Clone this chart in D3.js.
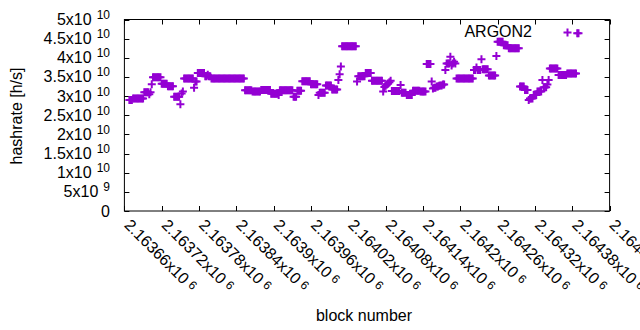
<!DOCTYPE html>
<html>
<head>
<meta charset="utf-8">
<script src="https://cdn.jsdelivr.net/npm/d3@7"></script>
<style>
body { margin: 0; background: #fff; }
svg text { font-family: "Liberation Sans", Arial, sans-serif; fill: #000; }
</style>
</head>
<body>
<svg id="chart" width="640" height="330"></svg>
<script>
// one reading every blockStep blocks, starting at firstBlock (hashrate in units of 1e10 h/s)
var firstBlock = 2163668;
var blockStep = 2;
var hashrate = [
  2.90, 2.90, 2.90, 2.94, 2.94, 2.94, 2.94, 2.94, 2.94, 2.94, 2.94, 2.94,
  3.10, 3.10, 3.10, 3.10, 3.05, 3.10, 3.31,
  3.49, 3.49, 3.49, 3.49, 3.49, 3.49, 3.49,
  3.32, 3.32, 3.32, 3.32, 3.32, 3.26, 3.26, 3.26, 3.26, 3.26,
  2.98, 2.98, 2.98, 2.98, 2.98, 2.79, 3.07, 3.12,
  3.46, 3.46, 3.46, 3.46, 3.46, 3.46, 3.46, 3.46, 3.22, 3.38, 3.38,
  3.60, 3.60, 3.60, 3.60, 3.60, 3.60, 3.52, 3.52, 3.56, 3.52, 3.52,
  3.46, 3.46, 3.46, 3.46, 3.46, 3.46, 3.46, 3.46, 3.46, 3.46, 3.46, 3.46, 3.46, 3.46,
  3.46, 3.46, 3.46, 3.46, 3.46, 3.46, 3.46, 3.46, 3.46, 3.46, 3.46, 3.46, 3.46,
  3.15, 3.15, 3.15, 3.15, 3.15, 3.15, 3.12, 3.12, 3.12, 3.12, 3.12, 3.12, 3.12,
  3.16, 3.16, 3.16, 3.16, 3.16, 3.16, 3.16, 3.16, 3.06, 3.06, 3.06, 3.06, 3.06, 3.06, 3.03,
  3.15, 3.15, 3.15, 3.15, 3.15, 3.15, 3.15, 3.15, 3.15, 3.15, 3.15,
  2.98, 2.98, 2.98, 3.14, 3.14, 3.14, 3.14,
  3.39, 3.39, 3.39, 3.39, 3.39, 3.39, 3.39, 3.31, 3.31, 3.31, 3.31, 3.31, 3.31,
  3.03, 3.09, 3.09, 3.09, 3.09, 3.09, 3.28, 3.28, 3.28, 3.28, 3.28,
  3.17, 3.17, 3.17, 3.17, 3.17, 3.42, 3.57, 3.77,
  4.30, 4.30, 4.30, 4.30, 4.30, 4.30, 4.30, 4.30, 4.30, 4.30, 4.30, 4.30, 3.38,
  3.52, 3.52, 3.52, 3.52, 3.52, 3.52, 3.60, 3.60, 3.60, 3.60, 3.60,
  3.40, 3.40, 3.40, 3.40, 3.40, 3.40, 3.40, 3.40, 3.40, 3.12,
  3.24, 3.27, 3.30, 3.33, 3.36, 3.40,
  3.13, 3.13, 3.13, 3.13, 3.13, 3.13, 3.13, 3.29, 3.09, 3.09, 3.09, 3.09,
  3.03, 3.03, 3.03, 3.03, 3.03, 3.14, 3.14, 3.14, 3.14, 3.14, 3.14,
  3.12, 3.12, 3.12, 3.12, 3.12, 3.84, 3.84, 3.84, 3.84, 3.38,
  3.20, 3.22, 3.22, 3.25, 3.25, 3.27, 3.28, 3.28, 3.30, 3.30,
  3.68, 3.85, 3.85, 3.85, 4.03, 3.80, 3.85, 3.90, 3.85,
  3.46, 3.46, 3.46, 3.46, 3.46, 3.46, 3.46, 3.46, 3.46, 3.46, 3.46, 3.46, 3.46, 3.46,
  3.68, 3.68, 3.75, 3.68, 3.68, 3.68, 3.96, 3.70, 3.70, 3.70, 3.70, 3.70,
  3.54, 3.54, 3.54, 3.54, 3.54, 3.54, 4.05,
  4.42, 4.42, 4.42, 4.42, 4.42, 4.33, 4.33, 4.33, 4.33,
  4.25, 4.25, 4.25, 4.25, 4.25, 4.25, 4.25, 4.25, 4.25,
  3.25, 3.25, 3.25, 3.25, 3.16, 3.16, 3.16, 2.90, 2.94, 2.94, 2.94,
  3.03, 3.03, 3.03, 3.12, 3.12, 3.12, 3.12, 3.42, 3.23, 3.23, 3.23, 3.30, 3.42,
  3.72, 3.72, 3.72, 3.72, 3.72, 3.72, 3.72, 3.55, 3.55, 3.55, 3.55, 3.55, 3.55, 3.55,
  3.59, 3.59, 3.59, 3.59, 3.59, 3.59, 3.59, 3.59, 4.64, 4.64
];
var seriesName = "ARGON2";
var xTicks = [2163660, 2163720, 2163780, 2163840, 2163900, 2163960, 2164020,
              2164080, 2164140, 2164200, 2164260, 2164320, 2164380, 2164440];
var yTicks = [0, 5e9, 1e10, 1.5e10, 2e10, 2.5e10, 3e10, 3.5e10, 4e10, 4.5e10, 5e10];
var xTitle = "block number";
var yTitle = "hashrate [h/s]";

(function () {
    var color = "#9400d3";
    var plotLeft = 124.4, plotRight = 609.6, plotTop = 19.5, plotBottom = 211;
    var fontSize = 16, supSize = 12;

    var svg = d3.select("#chart");

    var x = d3.scaleLinear().domain([2163660, 2164440]).range([plotLeft, plotRight]);
    var y = d3.scaleLinear().domain([0, 5e10]).range([plotBottom, plotTop]);

    // mantissa / exponent split, gnuplot style "2.5x10^10"
    function sci(v) {
        if (v === 0) return ["0", ""];
        var e = Math.floor(Math.log10(v));
        var m = parseFloat((v / Math.pow(10, e)).toPrecision(8));
        return [m + "x10", String(e)];
    }

    var points = hashrate.map(function (h, i) {
        return { block: firstBlock + i * blockStep, value: h * 1e10 };
    });

    var plus = "M-4,0H4M0,-4V4";

    //FRAME
    svg.append("rect")
        .attr("x", plotLeft).attr("y", plotTop)
        .attr("width", plotRight - plotLeft).attr("height", plotBottom - plotTop)
        .attr("fill", "none").attr("stroke", "#000").attr("stroke-width", 1);

    //TICKS, mirrored on top and right
    var tl = 5;
    var axes = svg.append("g").attr("stroke", "#000").attr("stroke-width", 1);
    yTicks.forEach(function (t) {
        var py = Math.round(y(t)) + 0.5;
        axes.append("line").attr("x1", plotLeft).attr("x2", plotLeft + tl).attr("y1", py).attr("y2", py);
        axes.append("line").attr("x1", plotRight).attr("x2", plotRight - tl).attr("y1", py).attr("y2", py);
    });
    xTicks.forEach(function (t) {
        var px = Math.round(x(t)) + 0.5;
        axes.append("line").attr("x1", px).attr("x2", px).attr("y1", plotBottom).attr("y2", plotBottom - tl);
        axes.append("line").attr("x1", px).attr("x2", px).attr("y1", plotTop).attr("y2", plotTop + tl);
    });

    //Y LABELS
    yTicks.forEach(function (t) {
        var parts = sci(t);
        var txt = svg.append("text")
            .attr("x", 110).attr("y", y(t) + 5.5)
            .attr("text-anchor", "end")
            .attr("font-size", fontSize);
        txt.append("tspan").text(parts[0]);
        if (parts[1]) {
            txt.append("tspan").attr("dx", 5).attr("dy", -6)
                .attr("font-size", supSize).text(parts[1]);
        }
    });

    //X LABELS, rotated
    xTicks.forEach(function (t) {
        var parts = sci(t);
        var txt = svg.append("text")
            .attr("transform", "translate(" + (x(t) - 1) + ",226) rotate(45)")
            .attr("font-size", fontSize);
        txt.append("tspan").text(parts[0]);
        txt.append("tspan").attr("dx", 4).attr("dy", -3)
            .attr("font-size", supSize).text(parts[1]);
    });

    //TITLES
    svg.append("text")
        .attr("transform", "translate(22,116) rotate(-90)")
        .attr("text-anchor", "middle")
        .attr("font-size", fontSize)
        .text(yTitle);
    svg.append("text")
        .attr("x", 364).attr("y", 321)
        .attr("text-anchor", "middle")
        .attr("font-size", fontSize)
        .text(xTitle);

    //POINTS
    svg.append("g")
        .selectAll("path")
        .data(points)
        .enter().append("path")
        .attr("transform", function (d) { return "translate(" + x(d.block) + "," + y(d.value) + ")"; })
        .attr("d", plus)
        .attr("fill", "none")
        .attr("stroke", color)
        .attr("stroke-width", 2);

    //KEY
    svg.append("text")
        .attr("x", 532).attr("y", 37)
        .attr("text-anchor", "end")
        .attr("font-size", fontSize)
        .text(seriesName);
    svg.append("path")
        .attr("transform", "translate(567.5,32.5)")
        .attr("d", plus)
        .attr("fill", "none")
        .attr("stroke", color)
        .attr("stroke-width", 2);
})();
</script>
</body>
</html>
